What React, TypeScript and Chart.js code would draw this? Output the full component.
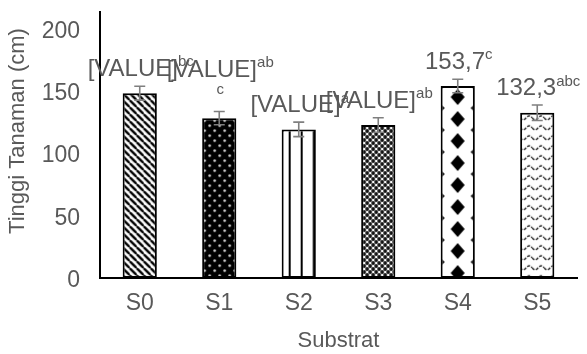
import React, { useEffect, useRef } from "react";
import { Chart, registerables } from "chart.js";

Chart.register(...registerables);

const categories = ["S0", "S1", "S2", "S3", "S4", "S5"];
const heights = [148, 128, 119, 122.5, 153.7, 132.3];
const errors = [5.6, 5.3, 5.8, 5.8, 5.4, 6.2];
const labelMain = ["[VALUE]", "[VALUE]", "[VALUE]", "[VALUE]", "153,7", "132,3"];
const labelSup = ["bc", "abc", "a", "ab", "c", "abc"];
const yTicks = [0, 50, 100, 150, 200];
const yTitle = "Tinggi Tanaman (cm)";
const xTitle = "Substrat";

const TEXT = "#595959";
const FONT = "'Liberation Sans', Arial, sans-serif";

function tile(w: number, h: number, draw: (c: CanvasRenderingContext2D) => void) {
  const cv = document.createElement("canvas");
  cv.width = w;
  cv.height = h;
  const c = cv.getContext("2d")!;
  draw(c);
  return cv;
}

function makePatterns(ctx: CanvasRenderingContext2D) {
  const t0 = tile(7, 7, (c) => {
    c.fillStyle = "#fff";
    c.fillRect(0, 0, 7, 7);
    c.strokeStyle = "#000";
    c.lineWidth = 2.4;
    for (let k = -1; k <= 1; k++) {
      c.beginPath();
      c.moveTo(k * 7, 0);
      c.lineTo(k * 7 + 7, 7);
      c.stroke();
    }
  });
  const t1 = tile(10, 10, (c) => {
    c.fillStyle = "#000";
    c.fillRect(0, 0, 10, 10);
    c.fillStyle = "#ddd";
    for (const [x, y] of [[2.5, 2.5], [7.5, 7.5]]) {
      c.beginPath();
      c.arc(x, y, 1.3, 0, Math.PI * 2);
      c.fill();
    }
  });
  const t2 = tile(12, 4, (c) => {
    c.fillStyle = "#fff";
    c.fillRect(0, 0, 12, 4);
    c.fillStyle = "#000";
    c.fillRect(7, 0, 2, 4);
  });
  const t3 = tile(6, 6, (c) => {
    c.fillStyle = "#fff";
    c.fillRect(0, 0, 6, 6);
    c.fillStyle = "#111";
    for (const [x, y] of [[0, 0], [6, 0], [0, 6], [6, 6], [3, 3]]) {
      c.beginPath();
      c.arc(x, y, 1.9, 0, Math.PI * 2);
      c.fill();
    }
  });
  const t4 = tile(34, 22, (c) => {
    c.fillStyle = "#fff";
    c.fillRect(0, 0, 34, 22);
    c.fillStyle = "#000";
    const dia = (x: number, y: number, w: number, h: number) => {
      c.beginPath();
      c.moveTo(x, y - h);
      c.lineTo(x + w, y);
      c.lineTo(x, y + h);
      c.lineTo(x - w, y);
      c.closePath();
      c.fill();
    };
    dia(17, 11, 7, 8);
    for (const [x, y] of [[0, 0], [34, 0], [0, 22], [34, 22]]) dia(x, y, 4, 4);
  });
  const t5 = tile(12, 10, (c) => {
    c.fillStyle = "#fff";
    c.fillRect(0, 0, 12, 10);
    c.strokeStyle = "#111";
    c.lineWidth = 1.4;
    c.setLineDash([3, 1.5]);
    c.beginPath();
    for (let x = 0; x <= 12; x += 0.5) {
      const y = 5 + 2 * Math.sin((x / 12) * Math.PI * 2);
      if (x === 0) c.moveTo(x, y);
      else c.lineTo(x, y);
    }
    c.stroke();
  });
  return [t0, t1, t2, t3, t4, t5].map((t) => ctx.createPattern(t, "repeat")!);
}

export default function App() {
  const ref = useRef<HTMLCanvasElement>(null);
  useEffect(() => {
    document.body.style.margin = "0";
    const canvas = ref.current!;
    const ctx = canvas.getContext("2d")!;
    const patterns = makePatterns(ctx);

    const alignPatterns = {
      id: "alignPatterns",
      beforeDatasetsDraw(chart: any) {
        const meta = chart.getDatasetMeta(0);
        meta.data.forEach((bar: any, i: number) => {
          const left = bar.x - bar.width / 2;
          const p: any = patterns[i];
          if (p.setTransform) p.setTransform(new DOMMatrix().translate(left, bar.y));
        });
      },
    };

    const errorBars = {
      id: "errorBars",
      afterDatasetsDraw(chart: any) {
        const c = chart.ctx;
        const y = chart.scales.y;
        const meta = chart.getDatasetMeta(0);
        c.save();
        c.strokeStyle = "#7f7f7f";
        c.lineWidth = 1.6;
        meta.data.forEach((bar: any, i: number) => {
          const hi = y.getPixelForValue(heights[i] + errors[i]);
          const lo = y.getPixelForValue(heights[i] - errors[i]);
          c.beginPath();
          c.moveTo(bar.x, hi);
          c.lineTo(bar.x, lo);
          c.moveTo(bar.x - 5.5, hi);
          c.lineTo(bar.x + 5.5, hi);
          c.moveTo(bar.x - 5.5, lo);
          c.lineTo(bar.x + 5.5, lo);
          c.stroke();
        });
        c.restore();
      },
    };

    const dataLabels = {
      id: "dataLabels",
      afterDraw(chart: any) {
        const c = chart.ctx;
        const meta = chart.getDatasetMeta(0);
        const mainFont = `24px ${FONT}`;
        const supFont = `15px ${FONT}`;
        c.save();
        c.fillStyle = TEXT;
        c.textBaseline = "middle";
        c.textAlign = "left";
        meta.data.forEach((bar: any, i: number) => {
          const main = labelMain[i];
          const sup = labelSup[i];
          // S1's label wraps its last superscript letter onto a second line
          const wrapped = i === 1;
          const lines: [string, string][] = wrapped
            ? [[main, sup.slice(0, 2)], ["", sup.slice(2)]]
            : [[main, sup]];
          lines.forEach((ln, li) => {
            const cy = wrapped ? bar.y - 28 - (lines.length - 1 - li) * 20 : bar.y - 24;
            c.font = mainFont;
            const wm = c.measureText(ln[0]).width;
            c.font = supFont;
            const ws = c.measureText(ln[1]).width;
            const x0 = bar.x - (wm + ws) / 2 + 1;
            c.font = mainFont;
            c.fillText(ln[0], x0, cy);
            c.font = supFont;
            c.fillText(ln[1], x0 + wm, ln[0] ? cy - 7 : cy);
          });
        });
        // y axis title
        c.font = `22px ${FONT}`;
        c.textAlign = "center";
        c.translate(18, 131);
        c.rotate(-Math.PI / 2);
        c.fillText(yTitle, 0, 0);
        c.restore();
      },
    };

    const chart = new Chart(canvas, {
      type: "bar",
      data: {
        labels: categories,
        datasets: [
          {
            data: heights,
            backgroundColor: patterns as any,
            borderColor: "#000",
            borderWidth: 2,
            borderSkipped: false,
            categoryPercentage: 1,
            barPercentage: 0.43,
          },
        ],
      },
      options: {
        animation: false,
        responsive: false,
        devicePixelRatio: 1,
        layout: { padding: { left: 0, right: 10, top: 12, bottom: 0 } },
        plugins: { legend: { display: false }, tooltip: { enabled: false } },
        scales: {
          x: {
            grid: { display: false, drawTicks: false },
            border: { display: true, color: "#000", width: 2 },
            ticks: { color: TEXT, font: { size: 23, family: FONT }, padding: 12 },
            title: {
              display: true,
              text: xTitle,
              color: TEXT,
              font: { size: 22, family: FONT },
              padding: { top: 3, bottom: 0 },
            },
            afterFit: (s: any) => {
              s.height = 76;
              s.paddingLeft = 0;
              s.paddingRight = 0;
            },
          },
          y: {
            min: 0,
            max: 213,
            grid: { display: false, drawTicks: false },
            border: { display: true, color: "#000", width: 2 },
            ticks: { color: TEXT, font: { size: 23, family: FONT }, padding: 20, labelOffset: 3 },
            afterBuildTicks: (s: any) => {
              s.ticks = yTicks.map((v) => ({ value: v }));
            },
            afterFit: (s: any) => {
              s.width = 100;
              s.paddingTop = 0;
              s.paddingBottom = 0;
            },
          },
        },
      },
      plugins: [alignPatterns, errorBars, dataLabels],
    });
    return () => chart.destroy();
  }, []);
  return <canvas ref={ref} width={587} height={354} style={{ display: "block" }} />;
}
